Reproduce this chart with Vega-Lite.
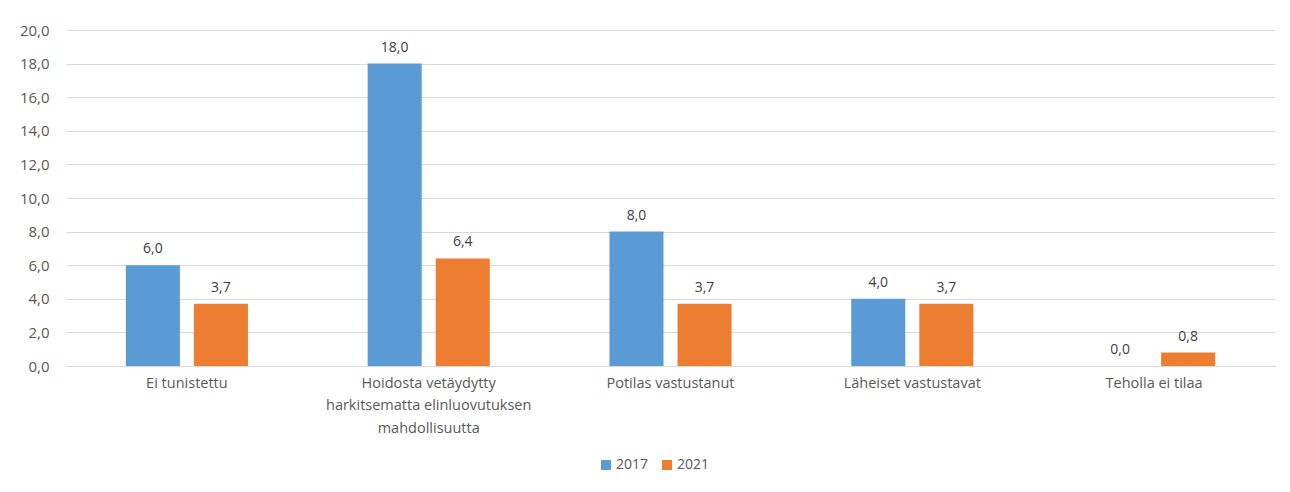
{
  "$schema": "https://vega.github.io/schema/vega-lite/v6.json",
  "width": 1209,
  "height": 336,
  "autosize": {"type": "none"},
  "padding": {"left": 66, "top": 30, "right": 15, "bottom": 126},
  "background": "white",
  "data": {
    "values": [
      {"syy": "Ei tunistettu", "vuosi": "2017", "arvo": 6.0},
      {"syy": "Ei tunistettu", "vuosi": "2021", "arvo": 3.7},
      {"syy": "Hoidosta vetäydytty harkitsematta elinluovutuksen mahdollisuutta", "vuosi": "2017", "arvo": 18.0},
      {"syy": "Hoidosta vetäydytty harkitsematta elinluovutuksen mahdollisuutta", "vuosi": "2021", "arvo": 6.4},
      {"syy": "Potilas vastustanut", "vuosi": "2017", "arvo": 8.0},
      {"syy": "Potilas vastustanut", "vuosi": "2021", "arvo": 3.7},
      {"syy": "Läheiset vastustavat", "vuosi": "2017", "arvo": 4.0},
      {"syy": "Läheiset vastustavat", "vuosi": "2021", "arvo": 3.7},
      {"syy": "Teholla ei tilaa", "vuosi": "2017", "arvo": 0.0},
      {"syy": "Teholla ei tilaa", "vuosi": "2021", "arvo": 0.8}
    ]
  },
  "encoding": {
    "x": {
      "field": "syy", "type": "nominal", "sort": null, "title": null,
      "scale": {"paddingInner": 0.495, "paddingOuter": 0.2475},
      "axis": {
        "labelAngle": 0, "ticks": false, "domain": true, "domainColor": "#d9d9d9",
        "labelFont": "Open Sans", "labelFontSize": 14.5, "labelColor": "#595959",
        "labelPadding": 10, "labelLineHeight": 22.5, "labelBaseline": "top", "labelLimit": 0,
        "labelExpr": "datum.label == 'Hoidosta vetäydytty harkitsematta elinluovutuksen mahdollisuutta' ? ['Hoidosta vetäydytty', 'harkitsematta elinluovutuksen', 'mahdollisuutta'] : datum.label"
      }
    },
    "xOffset": {"field": "vuosi", "type": "nominal", "scale": {"paddingInner": 0.206, "paddingOuter": 0}},
    "y": {
      "field": "arvo", "type": "quantitative", "title": null,
      "scale": {"domain": [0, 20], "nice": false},
      "axis": {
        "values": [0, 2, 4, 6, 8, 10, 12, 14, 16, 18, 20],
        "format": ".1f", "ticks": false, "domain": false,
        "gridColor": "#d9d9d9", "gridWidth": 1,
        "labelFont": "Open Sans", "labelFontSize": 15, "labelColor": "#595959",
        "labelPadding": 17
      }
    }
  },
  "layer": [
    {
      "mark": {"type": "bar"},
      "encoding": {
        "color": {
          "field": "vuosi", "type": "nominal", "title": null,
          "scale": {"domain": ["2017", "2021"], "range": ["#5b9bd5", "#ed7d31"]},
          "legend": {
            "orient": "none", "legendX": 533, "legendY": 428, "direction": "horizontal",
            "symbolType": "square", "symbolSize": 100, "symbolStrokeWidth": 0,
            "labelFont": "Open Sans", "labelFontSize": 14, "labelColor": "#595959",
            "columnPadding": 11, "labelOffset": 3
          }
        }
      }
    },
    {
      "mark": {"type": "text", "baseline": "bottom", "dy": -9, "font": "Open Sans", "fontSize": 14, "color": "#404040"},
      "encoding": {
        "text": {"field": "arvo", "type": "quantitative", "format": ".1f"}
      }
    }
  ],
  "config": {
    "view": {"stroke": null},
    "locale": {
      "number": {"decimal": ",", "thousands": " ", "grouping": [3], "currency": ["", " €"]}
    }
  }
}
